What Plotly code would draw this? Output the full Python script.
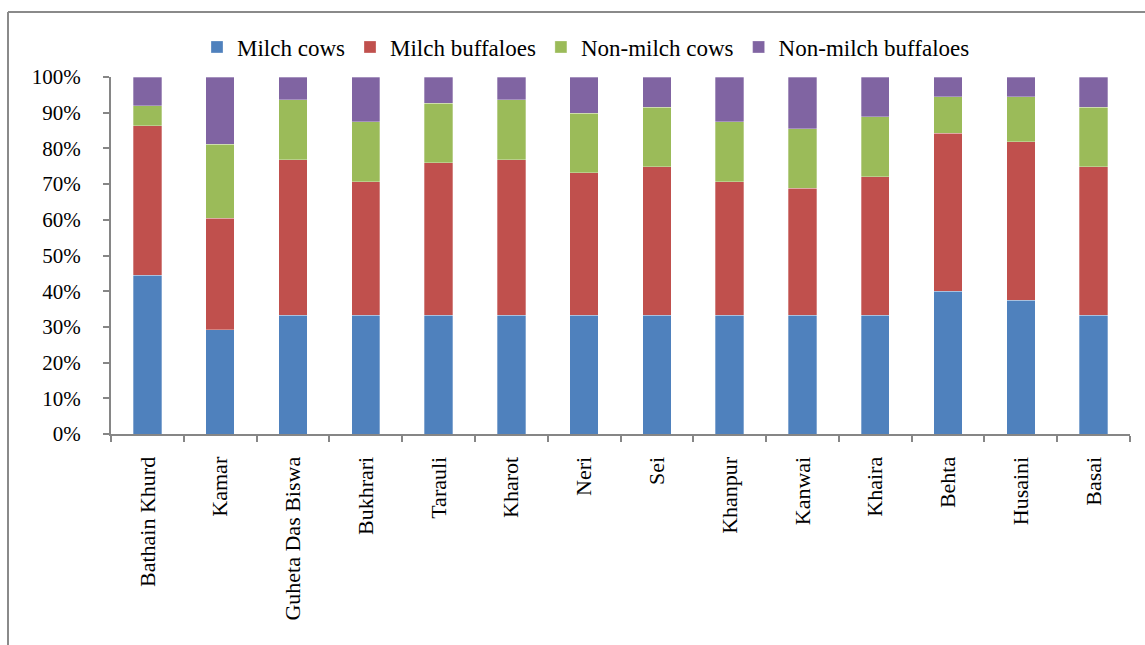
import plotly.graph_objects as go

villages = ["Bathain Khurd", "Kamar", "Guheta Das Biswa", "Bukhrari", "Tarauli", "Kharot",
            "Neri", "Sei", "Khanpur", "Kanwai", "Khaira", "Behta", "Husaini", "Basai"]
milch_cows = [44.4, 29.2, 33.3, 33.3, 33.3, 33.3, 33.3, 33.3, 33.3, 33.3, 33.3, 40.0, 37.5, 33.3]
milch_buffaloes = [42.0, 31.2, 43.5, 37.4, 42.7, 43.5, 39.9, 41.6, 37.4, 35.5, 38.8, 44.2, 44.4, 41.6]
non_milch_cows = [5.6, 20.8, 16.8, 16.7, 16.7, 16.8, 16.6, 16.6, 16.7, 16.7, 16.7, 10.2, 12.5, 16.6]
non_milch_buffaloes = [8.0, 18.8, 6.4, 12.6, 7.3, 6.4, 10.2, 8.5, 12.6, 14.5, 11.2, 5.6, 5.6, 8.5]

series = [
    ("Milch cows", milch_cows, "#4F81BD"),
    ("Milch buffaloes", milch_buffaloes, "#C0504D"),
    ("Non-milch cows", non_milch_cows, "#9BBB59"),
    ("Non-milch buffaloes", non_milch_buffaloes, "#8064A2"),
]

fig = go.Figure()
for name, vals, col in series:
    fig.add_trace(go.Bar(x=villages, y=vals, name=name,
                         marker=dict(color=col, line=dict(color="rgba(255,255,255,0.5)", width=0.6))))

W, H = 1145, 645
L, R, T, B = 111, 15, 77, 211
pw, ph = W - L - R, H - T - B

def px(xp):
    return (xp - L) / pw

def py(yp):
    return (H - B - yp) / ph

axis_col = "#868686"
fig.update_layout(
    width=W, height=H,
    margin=dict(l=L, r=R, t=T, b=B, pad=0),
    barmode="stack", bargap=0.61,
    plot_bgcolor="white", paper_bgcolor="white",
    font=dict(family="Liberation Serif", size=20, color="black"),
    legend=dict(orientation="h", x=px(197), xanchor="left", y=py(47), yanchor="middle",
                font=dict(size=23), traceorder="normal", itemwidth=30, tracegroupgap=0),
    xaxis=dict(type="category", tickson="boundaries", ticks="outside", ticklen=6,
               tickcolor=axis_col, tickwidth=2, showline=True, linecolor=axis_col, linewidth=2,
               tickangle=-90, showgrid=False, ticklabelstandoff=12, tickfont=dict(size=22)),
    yaxis=dict(range=[0, 100], dtick=10, ticksuffix="%", ticks="outside", ticklen=6,
               tickcolor=axis_col, tickwidth=2, showline=True, linecolor=axis_col, linewidth=2,
               showgrid=False, zeroline=False, ticklabelstandoff=18, tickfont=dict(size=21)),
    shapes=[
        dict(type="line", xref="paper", yref="paper", x0=px(8), x1=px(1160), y0=py(12), y1=py(12),
             line=dict(color="#8a8a8a", width=2)),
        dict(type="line", xref="paper", yref="paper", x0=px(8), x1=px(8), y0=py(12), y1=py(700),
             line=dict(color="#8a8a8a", width=2)),
    ],
)

fig.write_html("out.html")
